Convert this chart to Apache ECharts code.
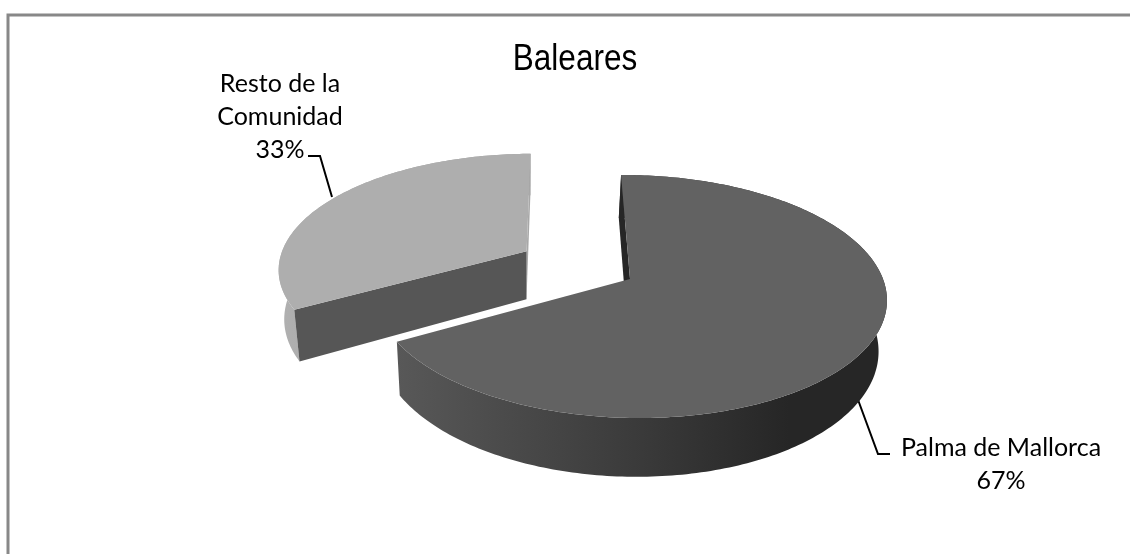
<!DOCTYPE html>
<html><head><meta charset="utf-8"><style>html,body{margin:0;padding:0;background:#fff}#c{width:1130px;height:554px}</style>
<script src="https://cdn.jsdelivr.net/npm/echarts@6/dist/echarts.min.js"></script></head><body><div id="c"></div>
<script>
var titleText = 'Baleares';
var categories = ['Palma de Mallorca', 'Resto de la\nComunidad'];
var values = [67, 33];
var percentLabels = ['67%', '33%'];

var total = values.reduce(function (a, b) { return a + b; }, 0);
var startDeg = -0.5, explode = [0, 0.48];
var X0 = 630, Y0 = 279, KX = 253, KY = 119, P = 0.144, SH = 8;
var topColors = ['#626262', '#aeaeae'];

function project(u, v) { var d = 1 - P * v; return [X0 + (KX * u + SH * v) / d, Y0 + KY * v / d]; }
function lower(p) { return [p[0] * 0.977 + 12, p[1] * 1.065 + 31.6]; }
function rimPoint(deg, off) { var t = deg * Math.PI / 180; return project(Math.sin(t) + off[0], -Math.cos(t) + off[1]); }
function arc(a, b, off) { var out = []; var n = Math.ceil(Math.abs(b - a)); for (var i = 0; i <= n; i++) out.push(rimPoint(a + (b - a) * i / n, off)); return out; }
function poly(points, fill, z) { return { type: 'polygon', z2: z, shape: { points: points }, style: { fill: fill } }; }
function sideGradient(stops) { return { type: 'linear', x: 0, y: 0, x2: 1, y2: 0, colorStops: stops }; }

function renderSlice(params, api) {
  var i = params.dataIndex, v = api.value(1), before = 0;
  for (var k = 0; k < i; k++) before += values[k];
  var a = startDeg + before / total * 360, b = a + v / total * 360, mid = (a + b) / 2 * Math.PI / 180;
  var off = [Math.sin(mid) * explode[i], -Math.cos(mid) * explode[i]];
  var apex = project(off[0], off[1]), top = arc(a, b, off), bot = top.map(lower);
  var rim = poly(top.concat(bot.slice().reverse()), i === 0
    ? sideGradient([{ offset: 0, color: '#585858' }, { offset: 0.5, color: '#3a3a3a' }, { offset: 0.8, color: '#262626' }, { offset: 1, color: '#262626' }])
    : sideGradient([{ offset: 0, color: '#b0b0b0' }, { offset: 1, color: '#9a9a9a' }]), 1);
  var pA = top[0], pB = top[top.length - 1], la = lower(apex);
  var children = [rim];
  if (i === 0) {
    children.push(poly([apex, pA, lower(pA), la], '#262626', 3));
  } else {
    children.push(poly([apex, pB, lower(pB), la], '#a8a8a8', 2));
    children.push(poly([apex, pA, lower(pA), la], '#565656', 3));
  }
  children.push(poly([apex].concat(top), topColors[i], 5));
  return { type: 'group', children: children };
}

var chart = echarts.init(document.getElementById('c'), null, { renderer: 'canvas' });
var FONT = 'Lato';
function label(text, x, y, size) {
  return { type: 'text', x: x, y: y, style: { text: text, fill: '#000', font: size + 'px ' + FONT, align: 'center', verticalAlign: 'middle', lineHeight: 33 } };
}
function leader(points) { return { type: 'polyline', shape: { points: points }, style: { stroke: '#000', lineWidth: 2, fill: null } }; }
chart.setOption({
  animation: false,
  backgroundColor: '#fff',
  series: [{ type: 'custom', coordinateSystem: 'none', renderItem: renderSlice,
    data: values.map(function (v, i) { return [i, v]; }), silent: true }],
  graphic: [
    { type: 'polyline', shape: { points: [[8, 554], [8, 15], [1130, 15]] }, style: { stroke: '#888', lineWidth: 3, fill: null } },
    { type: 'text', x: 575, y: 60, scaleX: 0.875, style: { text: titleText, fill: '#000', font: '36px "Liberation Sans"', align: 'center', verticalAlign: 'middle' } },
    leader([[308, 156], [320, 156], [332, 197]]),
    leader([[857, 397], [878, 454], [890, 454]]),
    label(categories[0] + '\n' + percentLabels[0], 1001, 464, 25),
    label(categories[1] + '\n' + percentLabels[1], 280, 117, 25)
  ]
});
</script></body></html>
